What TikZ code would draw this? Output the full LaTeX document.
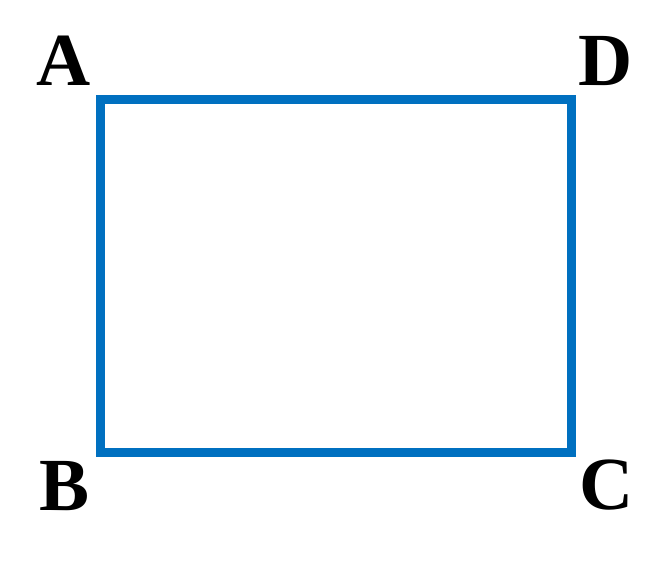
\documentclass[tikz,border=0pt]{standalone}
\usepackage{fontspec}
\setmainfont{Liberation Serif}
\definecolor{rectblue}{HTML}{0070C0}
\tikzset{
  lbl/.style={font=\fontsize{75}{75}\selectfont\bfseries, inner sep=0pt, anchor=center},
  side/.style={draw=rectblue, line width=9pt, line join=miter}
}
\begin{document}
\begin{tikzpicture}[x=1pt,y=-1pt]
\useasboundingbox (0,0) rectangle (672,566);
\coordinate (a) at (100,99.5);
\coordinate (b) at (100,452);
\coordinate (c) at (571.5,452);
\coordinate (d) at (571.5,99.5);
\draw[side] (a) -- (b) -- (c) -- (d) -- cycle;
\node[lbl] (la) at (63.5,61) {A};
\node[lbl] (ld) at (606,61.5) {D};
\node[lbl] (lb) at (65,486) {B};
\node[lbl] (lc) at (607,485) {C};
\end{tikzpicture}
\end{document}
